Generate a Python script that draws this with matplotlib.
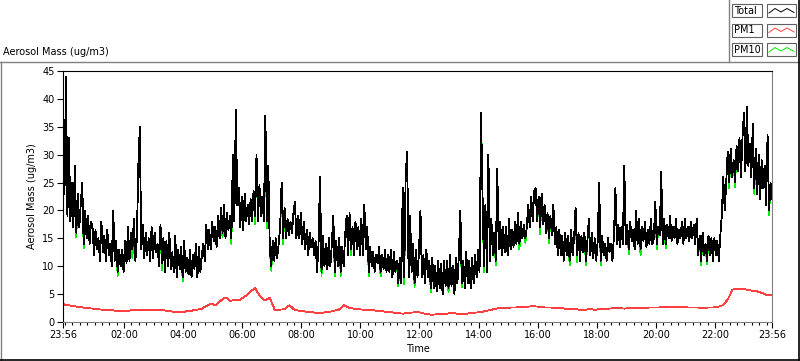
import matplotlib
matplotlib.use("Agg")
import matplotlib.pyplot as plt
from matplotlib.lines import Line2D
from matplotlib.patches import Rectangle
from matplotlib.ticker import FixedLocator

W, H = 800, 361

# Total / PM10: one value every 3 minutes starting 23:56, one row per hour
total = [
    34, 23, 44, 19, 33, 18, 25, 17, 28, 16, 23, 17, 21, 25, 14, 20, 15, 19, 14, 18,
    17, 12, 16.5, 13, 15, 11, 18, 12.5, 15.5, 11, 16.5, 12, 14, 10, 20, 11, 14.5, 9, 13, 10,
    13, 9, 14.5, 10.5, 17, 11, 16, 13, 18.5, 11, 15, 28, 35, 13, 17.5, 11.5, 16, 12, 15, 11,
    17, 11.5, 16, 12.5, 14, 10, 17.5, 10.5, 15, 9, 14.5, 10, 16, 9.5, 12.5, 9, 15.5, 8, 13, 9.5,
    13.5, 8, 14.5, 9, 11.5, 8.5, 13, 8, 12, 9.5, 14, 8, 13.5, 9, 12, 14, 11, 17.5, 13, 16.5,
    13, 18, 14.5, 17, 13.5, 19, 15, 20.5, 16, 21, 15, 19.5, 16.5, 19, 15, 30, 18, 38, 21, 24,
    17, 22.5, 16.5, 23, 18, 21, 17.5, 22, 18, 23.5, 19, 30, 18, 24.5, 19, 22.5, 18, 37, 18, 28,
    13, 10, 14.5, 11, 15, 11.5, 14, 17, 25, 15, 20.5, 15, 18.5, 15.5, 18, 16, 19.5, 21.5, 15, 19,
    15, 19.5, 14, 18, 13, 16.5, 12, 16, 13.5, 15, 12, 14.5, 9, 14, 26, 9, 15.5, 10, 14, 9.5,
    15, 10, 14, 19, 9, 14.5, 10, 15, 9, 13.5, 10, 15.5, 19, 12, 19.5, 13, 17, 12, 18, 13,
    17, 12, 18.5, 12, 21, 13, 17, 9, 13.5, 10, 12.5, 9, 12, 10.5, 13.5, 9, 12, 9.5, 13, 9,
    12, 9, 13, 8, 12.5, 9, 11, 7, 11.5, 7, 24, 8, 26.5, 30.5, 8, 19, 9, 14, 7, 13,
    8, 12.5, 20, 8, 12, 7, 13, 8, 11, 6, 11.5, 6, 10, 5.5, 11, 6, 10.5, 5, 11, 6.5,
    11, 6, 12, 6.5, 10, 5, 11.5, 7, 12, 20, 7, 11, 6, 12.5, 7, 11, 6, 11.5, 7, 12,
    8, 13, 9, 37.5, 23, 10, 21, 9, 30, 11, 18.5, 12, 16, 11, 27.5, 13, 18, 12, 17, 12.5,
    17, 12, 18.5, 13, 16.5, 13.5, 18, 14, 19.5, 14, 18, 15, 17.5, 15, 17, 21, 17, 22.5, 18, 23.5,
    24, 18, 22.5, 17, 23, 17.5, 21, 16, 19.5, 15, 19, 15.5, 21, 14, 17, 12, 16.5, 12, 15.5, 11,
    16, 12, 15.5, 11, 16.5, 12, 15, 20.5, 12, 16, 11, 15.5, 12.5, 16, 11, 14.5, 18.5, 12, 16, 11.5,
    15, 11, 14.5, 25, 11, 15.5, 12, 14, 11, 15, 12.5, 14, 11, 15.5, 24, 14, 17.5, 13.5, 17, 14,
    28, 14, 17.5, 13, 18, 14.5, 16.5, 13, 20, 14, 18.5, 13, 17, 14.5, 18, 13.5, 16.5, 14, 18.5, 14,
    15, 21.5, 14, 17, 15.5, 27, 14, 18.5, 14, 17.5, 15, 19, 14.5, 17, 15, 18.5, 14, 16.5, 15, 18,
    14, 18.5, 15, 17, 14.5, 18, 15, 17.5, 14, 18.5, 12, 15.5, 11, 16, 12, 14, 11, 15.5, 12, 15,
    11, 15, 12, 14.5, 11, 15.5, 19, 26, 20, 25, 30.5, 25, 31, 26, 29, 25, 31.5, 27, 33, 26,
    33, 37.5, 27, 38.5, 28, 32, 26, 35.5, 24, 31, 23, 30, 22, 29, 24, 28, 21, 33.5, 20, 25,
    22,
]

pm10 = [
    34, 23, 44, 19, 33, 18, 25, 17, 28, 15.2, 23, 17, 21, 25, 13.2, 20, 15, 19, 14, 18,
    17, 12, 16.5, 13, 15, 11, 18, 12.5, 15.5, 11, 16.5, 12, 14, 10, 20, 11, 14.5, 8.3, 13, 10,
    13, 9, 14.5, 10.5, 17, 11, 16, 11.5, 18.5, 11, 15, 28, 35, 13, 17.5, 11.5, 16, 12, 15, 11,
    17, 11.5, 16, 12.5, 14, 10, 17.5, 9.3, 15, 9, 14.5, 10, 16, 9.5, 12.5, 9, 15.5, 8, 13, 9.5,
    13.5, 7.3, 14.5, 9, 11.5, 8.5, 13, 8, 12, 9.5, 14, 8, 13.5, 9, 12, 14, 11, 17.5, 13, 16.5,
    13, 18, 14.5, 17, 13.5, 19, 15, 20.5, 15.2, 21, 15, 19.5, 16.5, 19, 14, 30, 18, 38, 21, 24,
    17, 22.5, 16.5, 23, 18, 21, 17.5, 22, 18, 23.5, 17.5, 30, 18, 24.5, 19, 22.5, 18, 37, 16.8, 28,
    13, 9.2, 14.5, 11, 15, 11.5, 14, 17, 25, 14, 20.5, 15, 18.5, 15.5, 18, 16, 19.5, 21.5, 15, 19,
    15, 19.5, 14, 18, 13, 16.5, 12, 16, 13.5, 15, 12, 14.5, 9, 14, 26, 8.2, 15.5, 10, 14, 9.5,
    15, 10, 14, 19, 8.2, 14.5, 10, 15, 8.3, 13.5, 10, 15.5, 19, 12, 19.5, 12, 17, 12, 18, 13,
    17, 12, 18.5, 12, 21, 13, 17, 8.2, 13.5, 10, 12.5, 9, 12, 10.5, 13.5, 8.2, 12, 9.5, 13, 9,
    12, 9, 13, 8, 12.5, 9, 11, 6.4, 11.5, 7, 24, 6.8, 26.5, 30.5, 8, 19, 9, 14, 6.3, 13,
    8, 12.5, 20, 8, 12, 7, 13, 8, 11, 5.3, 11.5, 6, 10, 5.5, 11, 6, 10.5, 5, 11, 6.5,
    11, 5.3, 12, 6.5, 10, 5, 11.5, 7, 12, 20, 6.2, 11, 6, 12.5, 7, 11, 6, 11.5, 7, 12,
    8, 13, 9, 37.5, 23, 9, 21, 9, 30, 11, 18.5, 12, 16, 10.2, 27.5, 13, 18, 12, 17, 12.5,
    17, 12, 18.5, 13, 16.5, 13.5, 18, 14, 19.5, 13, 18, 15, 17.5, 14.2, 17, 21, 17, 22.5, 18, 23.5,
    24, 18, 22.5, 15.8, 23, 17.5, 21, 16, 19.5, 14.2, 19, 15.5, 21, 14, 17, 12, 16.5, 12, 15.5, 11,
    16, 12, 15.5, 10.2, 16.5, 12, 15, 20.5, 10.8, 16, 11, 15.5, 12.5, 16, 10.2, 14.5, 18.5, 12, 16, 11.5,
    15, 11, 14.5, 25, 10.2, 15.5, 12, 14, 11, 15, 12.5, 14, 11, 15.5, 24, 14, 17.5, 13.5, 17, 14,
    28, 14, 17.5, 12.2, 18, 14.5, 16.5, 13, 20, 14, 18.5, 12, 17, 14.5, 18, 13.5, 16.5, 14, 18.5, 14,
    15, 21.5, 13, 17, 15.5, 27, 14, 18.5, 13.2, 17.5, 15, 19, 14.5, 17, 15, 18.5, 14, 16.5, 15, 18,
    14, 18.5, 15, 17, 14.5, 18, 15, 17.5, 14, 18.5, 12, 15.5, 10.2, 16, 12, 14, 10.3, 15.5, 12, 15,
    11, 15, 12, 14.5, 11, 15.5, 19, 26, 20, 25, 30.5, 24, 31, 26, 29, 24.2, 31.5, 27, 33, 26,
    33, 37.5, 27, 38.5, 28, 32, 26, 35.5, 23, 31, 23, 30, 22, 29, 24, 28, 21, 33.5, 19.2, 25,
    22,
]

# PM1: one value every 10 minutes starting 23:56, one row per two hours
pm1 = [
    3.2, 3.0, 2.9, 2.7, 2.6, 2.5, 2.4, 2.3, 2.2, 2.2, 2.1, 2.0,
    2.0, 2.0, 2.1, 2.1, 2.1, 2.2, 2.1, 2.2, 2.2, 2.0, 1.9, 1.8,
    1.7, 1.9, 2.0, 2.2, 2.3, 2.8, 3.3, 3.0, 3.8, 4.4, 3.8, 4.0,
    4.0, 4.6, 5.4, 6.1, 4.6, 3.9, 4.3, 2.2, 2.2, 2.3, 3.0, 2.2,
    2.0, 1.9, 1.8, 1.7, 1.6, 1.7, 1.8, 2.0, 2.2, 3.0, 2.6, 2.4,
    2.3, 2.2, 2.1, 2.1, 2.0, 1.9, 1.8, 1.7, 1.6, 1.5, 1.6, 1.7,
    1.8, 1.6, 1.4, 1.3, 1.4, 1.5, 1.5, 1.6, 1.5, 1.5, 1.5, 1.6,
    1.7, 1.8, 2.0, 2.2, 2.4, 2.5, 2.5, 2.6, 2.6, 2.7, 2.7, 2.8,
    2.8, 2.7, 2.6, 2.6, 2.5, 2.5, 2.4, 2.4, 2.3, 2.2, 2.2, 2.3,
    2.2, 2.3, 2.4, 2.4, 2.5, 2.5, 2.4, 2.5, 2.5, 2.5, 2.5, 2.6,
    2.6, 2.6, 2.7, 2.7, 2.7, 2.7, 2.7, 2.6, 2.6, 2.6, 2.5, 2.6,
    2.6, 2.7, 3.0, 4.0, 5.8, 6.0, 5.9, 5.8, 5.6, 5.5, 5.2, 4.8,
    4.9,
]

tick_minutes = [0, 124, 244, 364, 484, 604, 724, 844, 964, 1084, 1204, 1324, 1440]
tick_labels = ["23:56", "02:00", "04:00", "06:00", "08:00", "10:00", "12:00",
               "14:00", "16:00", "18:00", "20:00", "22:00", "23:56"]

series_names = ["Total", "PM1", "PM10"]
series_colors = ["black", "#ff4040", "#00ee00"]

t3 = [3 * i for i in range(len(total))]
t10 = [10 * i for i in range(len(pm1))]

plt.rcParams["font.family"] = "DejaVu Sans"
plt.rcParams["font.size"] = 7

fig = plt.figure(figsize=(W / 100, H / 100), dpi=100)
fig.patch.set_facecolor("white")

ax = fig.add_axes([63 / W, 1 - 322 / H, 709 / W, 251 / H])
# PM10 sits under Total, so it only shows where the two differ
ax.plot(t3, pm10, color=series_colors[2], lw=0.6, antialiased=False)
ax.plot(t3, total, color=series_colors[0], lw=0.6, antialiased=False)
ax.plot(t10, pm1, color=series_colors[1], lw=0.6, antialiased=False)

ax.set_xlim(0, 1440)
ax.set_ylim(0, 45)
ax.set_yticks(range(0, 50, 5))
ax.set_xticks(tick_minutes)
ax.set_xticklabels(tick_labels)
ax.xaxis.set_minor_locator(FixedLocator(list(range(4, 1440, 15))))
ax.tick_params(axis="both", which="major", direction="out", length=4, width=0.8, pad=2)
ax.tick_params(axis="x", which="minor", direction="out", length=2.2, width=0.8)
ax.set_ylabel("Aerosol Mass (ug/m3)", labelpad=4)
ax.set_xlabel("Time", labelpad=3)

for side in ["left", "top"]:
    ax.spines[side].set_color("black")
for side in ["right", "bottom"]:
    ax.spines[side].set_color("#808080")

fig.text(3 / W, 1 - 52 / H, "Aerosol Mass (ug/m3)", va="center", ha="left")


def fx(x):
    return x / W


def fy(y):
    return 1 - y / H


# panel frame
fig.add_artist(Line2D([fx(0), fx(799)], [fy(61.5), fy(61.5)], color="#808080", lw=1))
fig.add_artist(Line2D([fx(0.5), fx(0.5)], [fy(61.5), fy(360)], color="#808080", lw=1))
fig.add_artist(Line2D([fx(0), fx(799)], [fy(360), fy(360)], color="black", lw=1.2))
fig.add_artist(Line2D([fx(799), fx(799)], [fy(0), fy(360)], color="black", lw=1.2))
fig.add_artist(Line2D([fx(729), fx(729)], [fy(0), fy(61.5)], color="#808080", lw=1))

# legend boxes
for i, (name, col) in enumerate(zip(series_names, series_colors)):
    top = 4 + i * 19.5
    fig.add_artist(Rectangle((fx(732), fy(top + 13)), 30 / W, 13 / H,
                             transform=fig.transFigure, fill=False, ec="#606060", lw=0.8))
    fig.add_artist(Rectangle((fx(767), fy(top + 13)), 29 / W, 13 / H,
                             transform=fig.transFigure, fill=False, ec="#606060", lw=0.8))
    fig.text(fx(734), fy(top + 6.8), name, va="center", ha="left")
    zx = [fx(769), fx(775), fx(781), fx(787), fx(794)]
    zy = [fy(top + 9), fy(top + 4.5), fy(top + 8), fy(top + 4.5), fy(top + 8.5)]
    fig.add_artist(Line2D(zx, zy, color=col, lw=0.7))

fig.savefig("out.png", dpi=100, facecolor="white")
